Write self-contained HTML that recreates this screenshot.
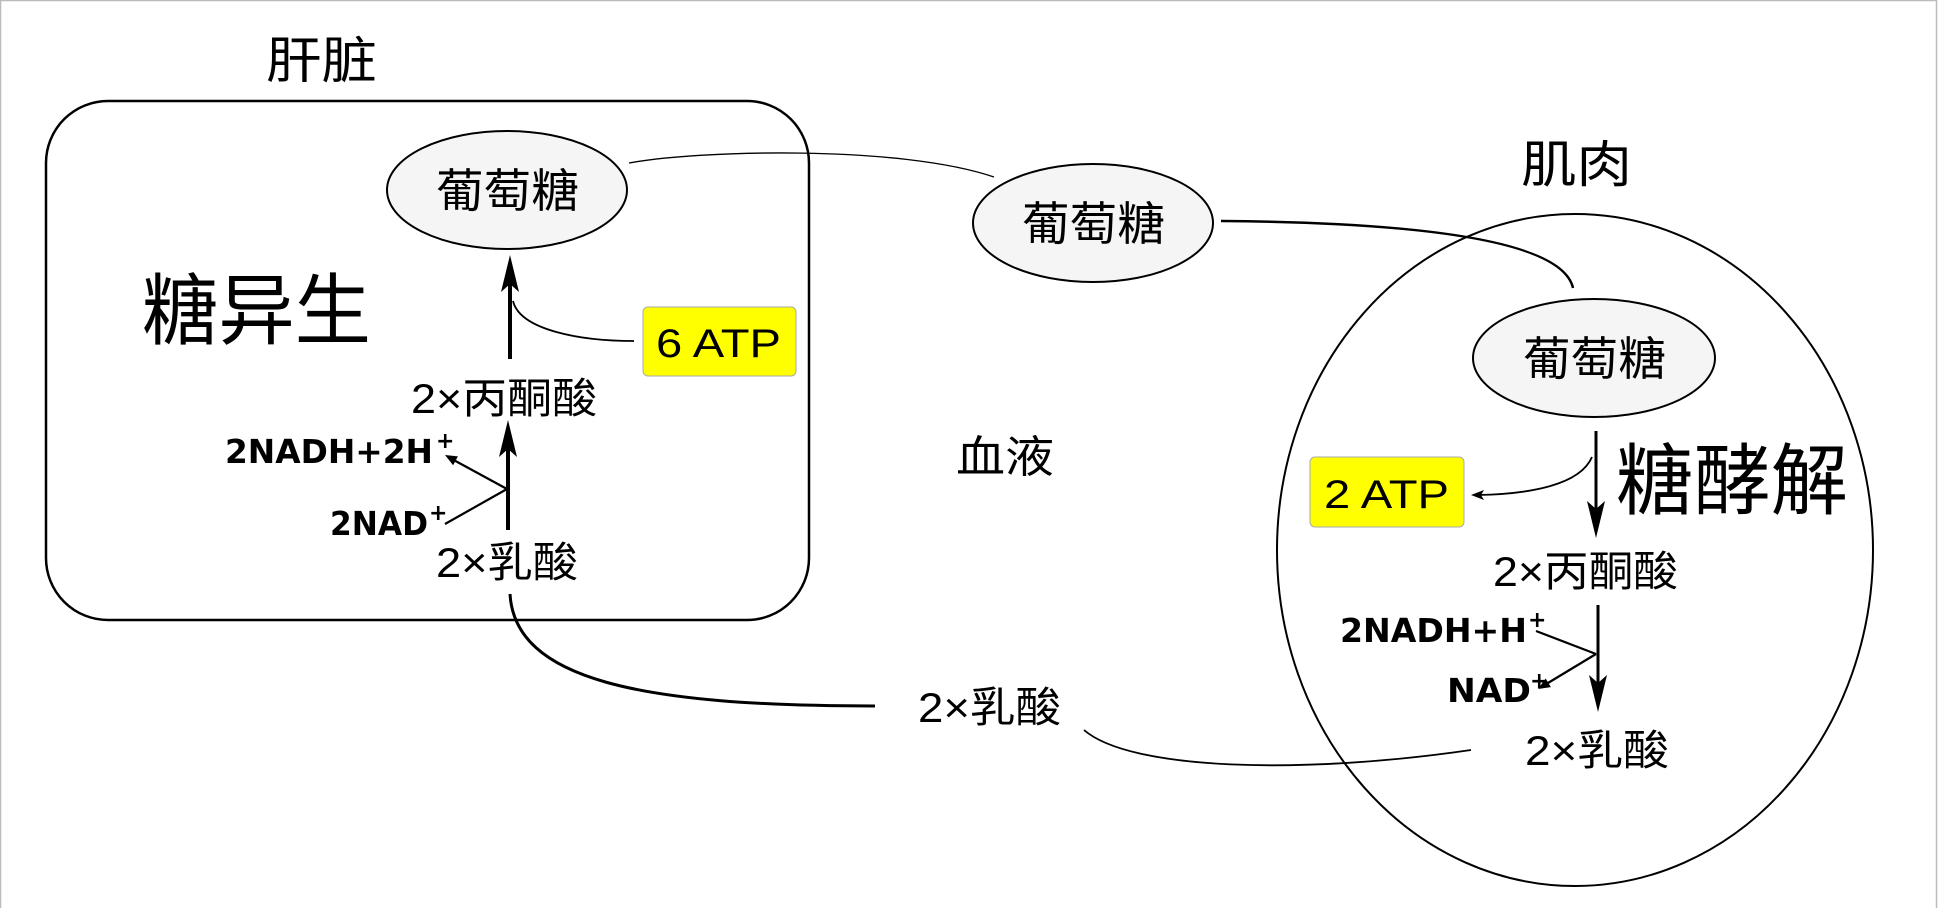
<!DOCTYPE html>
<html><head><meta charset="utf-8"><style>
html,body{margin:0;padding:0;background:#fff;}
svg{display:block;}
.cj{font-family:"Liberation Sans","Noto Sans CJK SC",sans-serif;}
.b{font-family:"DejaVu Sans",sans-serif;font-weight:bold;}
</style></head><body>
<svg width="1939" height="908" viewBox="0 0 1939 908" xmlns="http://www.w3.org/2000/svg">
<rect x="0.5" y="0.5" width="1936" height="910" fill="none" stroke="#bbb" stroke-width="1.5"/>

<!-- liver -->
<text x="266" y="78" class="cj" font-size="50" textLength="111" lengthAdjust="spacingAndGlyphs">肝脏</text>
<rect x="46" y="101" width="763" height="519" rx="62" ry="62" fill="none" stroke="#000" stroke-width="2.5"/>
<ellipse cx="507" cy="190" rx="120" ry="59" fill="#f5f5f5" stroke="#000" stroke-width="2"/>
<text x="436" y="207" class="cj" font-size="46" textLength="143" lengthAdjust="spacingAndGlyphs">葡萄糖</text>
<text x="142" y="338" class="cj" font-size="78" textLength="229" lengthAdjust="spacingAndGlyphs">糖异生</text>
<line x1="510" y1="359" x2="510" y2="280" stroke="#000" stroke-width="4"/>
<path d="M510,255 L519,292 L510,284 L501,292 Z" fill="#000"/>
<path d="M634,341 C580,341 520,330 513,301" fill="none" stroke="#000" stroke-width="1.8"/>
<rect x="643" y="307" width="153" height="69" rx="5" fill="#ffff00" stroke="#aaa" stroke-width="1"/>
<text x="656" y="357" class="cj" font-size="40" textLength="125" lengthAdjust="spacingAndGlyphs">6 ATP</text>
<text x="411" y="413" class="cj" font-size="42" textLength="186" lengthAdjust="spacingAndGlyphs">2×丙酮酸</text>
<line x1="508" y1="530" x2="508" y2="445" stroke="#000" stroke-width="4"/>
<path d="M508,420 L517,457 L508,449 L499,457 Z" fill="#000"/>
<line x1="507" y1="489" x2="450" y2="458" stroke="#000" stroke-width="2.2"/>
<path d="M445,455 L457.9,456.4 L453.1,465.2 Z" fill="#000"/>
<line x1="445" y1="524" x2="507" y2="489" stroke="#000" stroke-width="2.2"/>
<text x="225" y="463" class="b" font-size="33" textLength="208" lengthAdjust="spacingAndGlyphs">2NADH+2H</text>
<text x="436" y="448" class="b" font-size="22">+</text>
<text x="330" y="535" class="b" font-size="33" textLength="98" lengthAdjust="spacingAndGlyphs">2NAD</text>
<text x="429" y="520" class="b" font-size="22">+</text>
<text x="436" y="577" class="cj" font-size="42" textLength="142" lengthAdjust="spacingAndGlyphs">2×乳酸</text>
<path d="M510,594 C515,680 640,706 875,706" fill="none" stroke="#000" stroke-width="3"/>

<!-- blood -->
<path d="M629,163 C700,150 900,145 994,177" fill="none" stroke="#000" stroke-width="1.3"/>
<ellipse cx="1093" cy="223" rx="120" ry="59" fill="#f5f5f5" stroke="#000" stroke-width="2"/>
<text x="1022" y="240" class="cj" font-size="46" textLength="143" lengthAdjust="spacingAndGlyphs">葡萄糖</text>
<path d="M1221,221 C1350,222 1560,230 1573,288" fill="none" stroke="#000" stroke-width="2.5"/>
<text x="956" y="472" class="cj" font-size="44" textLength="98" lengthAdjust="spacingAndGlyphs">血液</text>
<text x="918" y="722" class="cj" font-size="42" textLength="143" lengthAdjust="spacingAndGlyphs">2×乳酸</text>
<path d="M1084,730 C1130,770 1300,775 1471,750" fill="none" stroke="#000" stroke-width="1.8"/>

<!-- muscle -->
<text x="1521" y="182" class="cj" font-size="50" textLength="111" lengthAdjust="spacingAndGlyphs">肌肉</text>
<ellipse cx="1575" cy="550" rx="298" ry="336" fill="none" stroke="#000" stroke-width="2"/>
<ellipse cx="1594" cy="358" rx="121" ry="59" fill="#f5f5f5" stroke="#000" stroke-width="2"/>
<text x="1523" y="375" class="cj" font-size="46" textLength="143" lengthAdjust="spacingAndGlyphs">葡萄糖</text>
<line x1="1596" y1="431" x2="1596" y2="515" stroke="#000" stroke-width="3"/>
<path d="M1596,538 L1605,501 L1596,509 L1587,501 Z" fill="#000"/>
<text x="1616" y="508" class="cj" font-size="78" textLength="232" lengthAdjust="spacingAndGlyphs">糖酵解</text>
<rect x="1310" y="457" width="154" height="70" rx="5" fill="#ffff00" stroke="#aaa" stroke-width="1"/>
<text x="1324" y="508" class="cj" font-size="40" textLength="125" lengthAdjust="spacingAndGlyphs">2 ATP</text>
<path d="M1592,457 C1580,485 1530,494 1478,495" fill="none" stroke="#000" stroke-width="1.8"/>
<path d="M1471,495 L1484,490 L1481,495 L1484,500 Z" fill="#000"/>
<text x="1493" y="586" class="cj" font-size="42" textLength="185" lengthAdjust="spacingAndGlyphs">2×丙酮酸</text>
<line x1="1598" y1="605" x2="1598" y2="690" stroke="#000" stroke-width="3"/>
<path d="M1598,712 L1607,675 L1598,683 L1589,675 Z" fill="#000"/>
<line x1="1536" y1="631" x2="1596" y2="654" stroke="#000" stroke-width="2.2"/>
<line x1="1596" y1="654" x2="1543" y2="686" stroke="#000" stroke-width="2.2"/>
<path d="M1538,689 L1550.9,687.1 L1545.7,678.5 Z" fill="#000"/>
<text x="1340" y="642" class="b" font-size="33" textLength="187" lengthAdjust="spacingAndGlyphs">2NADH+H</text>
<text x="1528" y="627" class="b" font-size="22">+</text>
<text x="1447" y="702" class="b" font-size="33" textLength="84" lengthAdjust="spacingAndGlyphs">NAD</text>
<text x="1530" y="688" class="b" font-size="22">+</text>
<text x="1525" y="765" class="cj" font-size="42" textLength="144" lengthAdjust="spacingAndGlyphs">2×乳酸</text>
</svg>
</body></html>
